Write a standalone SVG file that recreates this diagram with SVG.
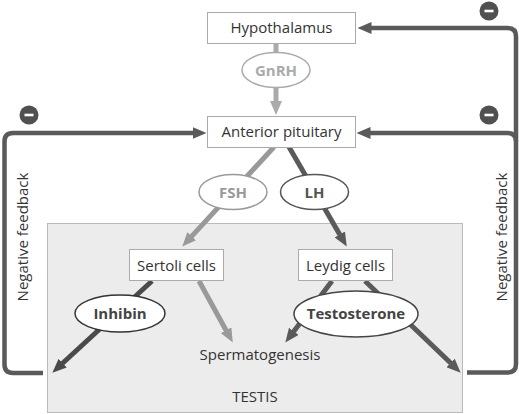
<svg xmlns="http://www.w3.org/2000/svg" width="519" height="414" viewBox="0 0 519 414">
<style>
  text { font-family: "Open Sans", "Noto Sans", "DejaVu Sans", sans-serif; font-size: 15px; fill: #333; text-anchor: middle; }
  .bold { font-weight: bold; }
  .box { fill: #fff; stroke: #aaa; stroke-width: 1; }
  .ell { fill: #fff; stroke-width: 1.5; }
  .fb { fill: none; stroke: #5a5a5a; stroke-width: 4.5; stroke-linejoin: round; }
  .ar { fill: none; stroke-width: 5; }
  .minus { fill: #505050; }
</style>
<defs>
  <marker id="ah-dark" viewBox="0 0 14 12" refX="0.5" refY="6" markerWidth="14" markerHeight="12" markerUnits="userSpaceOnUse" orient="auto"><path d="M0,0 L14,6 L0,12 z" fill="#5a5a5a"/></marker>
  <marker id="ah-darker" viewBox="0 0 14 12" refX="0.5" refY="6" markerWidth="14" markerHeight="12" markerUnits="userSpaceOnUse" orient="auto"><path d="M0,0 L14,6 L0,12 z" fill="#4a4a4a"/></marker>
  <marker id="ah-light" viewBox="0 0 14 12" refX="0.5" refY="6" markerWidth="14" markerHeight="12" markerUnits="userSpaceOnUse" orient="auto"><path d="M0,0 L14,6 L0,12 z" fill="#999"/></marker>
  <marker id="ah-lighter" viewBox="0 0 14 12" refX="0.5" refY="6" markerWidth="14" markerHeight="12" markerUnits="userSpaceOnUse" orient="auto"><path d="M0,0 L14,6 L0,12 z" fill="#aaa"/></marker>
  <marker id="ah-fb" viewBox="0 0 14 12" refX="0.5" refY="6" markerWidth="14" markerHeight="12" markerUnits="userSpaceOnUse" orient="auto"><path d="M0,0 L14,6 L0,12 z" fill="#5a5a5a"/></marker>
  <g id="minus-sign"><circle r="9.5" class="minus"/><rect x="-4.5" y="-1.3" width="9" height="2.6" fill="#fff"/></g>
</defs>

<g id="testis">
  <rect x="47.5" y="223.5" width="415" height="189" fill="#ececec" stroke="#bbb" stroke-width="1"/>
  <text x="255" y="402">TESTIS</text>
</g>

<g id="connectors">
  <!-- GnRH -->
  <path class="ar" stroke="#aaa" d="M276,44 V101.5" marker-end="url(#ah-lighter)"/>
  <!-- FSH -->
  <path class="ar" stroke="#999" d="M274,147 L191.4,236.6" marker-end="url(#ah-light)"/>
  <!-- LH -->
  <path class="ar" stroke="#5a5a5a" d="M289,147 L340,234.9" marker-end="url(#ah-dark)"/>
  <!-- Inhibin -->
  <path class="ar" stroke="#4a4a4a" d="M152,281 L62.3,363.5" marker-end="url(#ah-darker)"/>
  <!-- Sertoli to spermatogenesis -->
  <path class="ar" stroke="#999" d="M199,281 L226.3,330.7" marker-end="url(#ah-light)"/>
  <!-- Testosterone to spermatogenesis -->
  <path class="ar" stroke="#5a5a5a" d="M332,281 L293.5,331.8" marker-end="url(#ah-dark)"/>
  <!-- Testosterone to right -->
  <path class="ar" stroke="#5a5a5a" d="M365,281 L450.9,363.3" marker-end="url(#ah-dark)"/>
  <!-- Feedback left -->
  <path class="fb" d="M43,373 H13 Q4.5,373 4.5,364.5 V141.5 Q4.5,133 13,133 H193" marker-end="url(#ah-fb)"/>
  <!-- Feedback right to hypothalamus -->
  <path class="fb" d="M467,372.5 H507.5 Q516,372.5 516,364 V36.5 Q516,28 507.5,28 H371" marker-end="url(#ah-fb)"/>
  <!-- Feedback right to anterior pituitary -->
  <path class="fb" d="M516,141.5 Q516,133 507.5,133 H370" marker-end="url(#ah-fb)"/>
  <use href="#minus-sign" x="29" y="115"/>
  <use href="#minus-sign" x="489" y="115"/>
  <use href="#minus-sign" x="489" y="11"/>
</g>

<g id="hypothalamus">
  <rect class="box" x="207.5" y="12.5" width="148" height="31"/>
  <text x="281.5" y="33">Hypothalamus</text>
</g>
<g id="gnrh">
  <ellipse class="ell" cx="276" cy="70" rx="34" ry="17.5" stroke="#aaa"/>
  <text class="bold" x="276" y="76" style="fill:#aaa">GnRH</text>
</g>
<g id="anterior-pituitary">
  <rect class="box" x="207.5" y="116.5" width="148" height="31"/>
  <text x="281.5" y="137">Anterior pituitary</text>
</g>
<g id="fsh">
  <ellipse class="ell" cx="233" cy="192" rx="34" ry="17.5" stroke="#999"/>
  <text class="bold" x="233" y="198" style="fill:#999">FSH</text>
</g>
<g id="lh">
  <ellipse class="ell" cx="314.5" cy="192" rx="34" ry="17.5" stroke="#555"/>
  <text class="bold" x="314.5" y="198" style="fill:#555">LH</text>
</g>
<g id="sertoli">
  <rect class="box" x="129.5" y="249.5" width="94" height="31"/>
  <text x="176.5" y="271">Sertoli cells</text>
</g>
<g id="leydig">
  <rect class="box" x="298.5" y="249.5" width="94" height="31"/>
  <text x="345.5" y="271">Leydig cells</text>
</g>
<g id="inhibin">
  <ellipse class="ell" cx="120" cy="313.5" rx="45" ry="18.5" stroke="#333"/>
  <text class="bold" x="120" y="318.5" style="fill:#444">Inhibin</text>
</g>
<g id="testosterone">
  <ellipse class="ell" cx="356" cy="314" rx="62" ry="23" stroke="#444"/>
  <text class="bold" x="356" y="319" style="fill:#444">Testosterone</text>
</g>
<g id="spermatogenesis">
  <text x="260" y="360">Spermatogenesis</text>
</g>
<g id="feedback-labels">
  <text transform="translate(28,237) rotate(-90)">Negative feedback</text>
  <text transform="translate(507,237) rotate(-90)">Negative feedback</text>
</g>
</svg>
